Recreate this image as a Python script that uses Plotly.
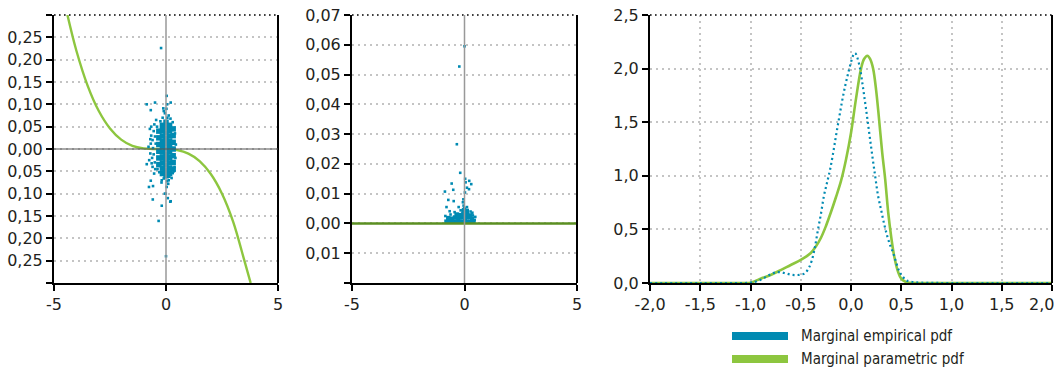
import plotly.graph_objects as go

# ---------------- data ----------------
# Panel 1: scatter cloud + parametric (cubic-like) curve
p1_core_x = [-0.32, -0.32, -0.32, -0.32, -0.32, -0.32,
             -0.16, -0.16, -0.16, -0.16, -0.16, -0.16, -0.16, -0.16, -0.16, -0.16,
             0.0, 0.0, 0.0, 0.0, 0.0, 0.0, 0.0, 0.0, 0.0, 0.0, 0.0,
             0.16, 0.16, 0.16, 0.16, 0.16, 0.16, 0.16, 0.16, 0.16, 0.16,
             0.32, 0.32, 0.32, 0.32, 0.32, 0.32, 0.32]
p1_core_y = [-0.035, -0.02, -0.005, 0.01, 0.025, 0.04,
             -0.055, -0.043, -0.031, -0.019, -0.007, 0.005, 0.017, 0.029, 0.041, 0.053,
             -0.06, -0.048, -0.036, -0.024, -0.012, 0.0, 0.012, 0.024, 0.036, 0.048, 0.06,
             -0.055, -0.043, -0.031, -0.019, -0.007, 0.005, 0.017, 0.029, 0.041, 0.053,
             -0.045, -0.03, -0.015, 0.0, 0.015, 0.03, 0.045]
p1_sparse_x = [-0.72, -0.66, -0.60, -0.55, -0.70, -0.62, -0.50, -0.46, -0.58, -0.68, -0.52,
               -0.48, -0.75, -0.44, -0.60, -0.66, -0.55, -0.49, -0.78, -0.64, -0.53, -0.70,
               -0.05, 0.12, 0.02, -0.15, 0.20, -0.25, 0.30, 0.05, -0.10, 0.06,
               0.05, -0.10, 0.15, 0.35, -0.30, 0.25, -0.20,
               -0.22, -0.86, -0.49, 0.03, 0.21, -0.12, -0.68, -0.76, -0.59, -0.19, -0.33,
               0.00, 0.21, 0.03, -0.86, -0.19, -0.05, 0.12, 0.30, -0.68, 0.10, 0.08, -0.01,
               0.19, -0.58, 0.40, 0.42, -0.38, 0.38, 0.44, -0.40]
p1_sparse_y = [0.045, 0.030, 0.020, 0.040, -0.010, -0.020, -0.030, 0.012, 0.002, 0.012, 0.055,
               -0.045, -0.025, 0.065, -0.040, 0.050, -0.012, 0.028, 0.005, -0.032, -0.055, 0.022,
               0.080, 0.075, 0.090, 0.070, 0.068, 0.062, 0.060, 0.100, 0.085, 0.070,
               -0.072, -0.066, -0.062, -0.050, -0.052, -0.065, -0.075,
               0.226, 0.100, 0.104, 0.119, 0.104, 0.091, 0.087, -0.085, -0.113, -0.127, -0.161,
               -0.240, -0.117, -0.085, -0.034, -0.070, -0.100, -0.070, -0.054, -0.071, -0.078, -0.110, -0.100,
               -0.118, -0.083, 0.035, -0.020, -0.045, -0.040, 0.010, 0.050]
p1_curve_x = [-4.4, -4.0, -3.5, -3.0, -2.5, -2.0, -1.5, -1.0, -0.5, 0.0, 0.5, 1.0, 1.5, 2.0, 2.5, 3.0, 3.5, 3.78]
p1_curve_y = [0.300, 0.220, 0.142, 0.085, 0.046, 0.021, 0.007, 0.0014, 0.0, -0.0002, -0.0025, -0.0103,
              -0.027, -0.056, -0.100, -0.163, -0.250, -0.300]

# Panel 2: scatter of squared terms + parametric line at zero
p2_base_x = [-0.80, -0.65, -0.50, -0.35, -0.20, -0.05, 0.10, 0.25, 0.40,
             -0.72, -0.57, -0.42, -0.27, -0.12, 0.03, 0.18, 0.33,
             -0.35, -0.20, -0.05, 0.10, 0.25,
             -0.02, 0.10]
p2_base_y = [0.0006, 0.0006, 0.0006, 0.0006, 0.0006, 0.0006, 0.0006, 0.0006, 0.0006,
             0.0018, 0.0016, 0.0020, 0.0017, 0.0021, 0.0019, 0.0022, 0.0016,
             0.0030, 0.0028, 0.0033, 0.0031, 0.0027,
             0.0045, 0.0042]
p2_sparse_x = [0.00, -0.23, -0.34, -0.19, 0.03, 0.21, -0.57, -0.87, -0.50, 0.20, 0.05, 0.30,
               0.11, 0.02, -0.72, -0.48, -0.05, -0.07, -0.80, -0.26, -0.01, 0.11, -0.66,
               -0.44, -0.17, -0.04, 0.27, 0.37, 0.45, -0.85, 0.48, -0.62, 0.35]
p2_sparse_y = [0.0595, 0.0527, 0.0266, 0.0170, 0.0150, 0.0143, 0.0134, 0.0107, 0.0113, 0.0115,
               0.0138, 0.0132, 0.0120, 0.0104, 0.0079, 0.0075, 0.0081, 0.0071, 0.0055, 0.0055,
               0.0052, 0.0055, 0.0041, 0.0038, 0.0044, 0.0060, 0.0040, 0.0027, 0.0012, 0.0025,
               0.0022, 0.0030, 0.0036]
p2_line_x = [-5, 5]
p2_line_y = [0, 0]

# Panel 3: marginal pdfs
emp_x = [-2.0, -1.5, -1.0, -0.95, -0.9, -0.85, -0.8, -0.75, -0.7, -0.65, -0.6, -0.55, -0.5,
         -0.46, -0.42, -0.39, -0.36, -0.33, -0.30, -0.27, -0.24, -0.21, -0.18, -0.15, -0.12,
         -0.09, -0.06, -0.03, 0.0, 0.02, 0.04, 0.06, 0.09, 0.12, 0.15, 0.18, 0.21, 0.24, 0.27,
         0.30, 0.33, 0.36, 0.39, 0.42, 0.45, 0.48, 0.51, 0.55, 0.60, 0.70, 1.0, 1.5, 2.0]
emp_y = [0.0, 0.0, 0.003, 0.012, 0.03, 0.055, 0.08, 0.098, 0.10, 0.09, 0.078, 0.074, 0.078,
         0.09, 0.14, 0.21, 0.33, 0.49, 0.64, 0.81, 0.93, 1.05, 1.20, 1.37, 1.53,
         1.69, 1.83, 1.95, 2.06, 2.12, 2.145, 2.11, 2.00, 1.82, 1.62, 1.41, 1.20, 1.00, 0.81,
         0.68, 0.55, 0.44, 0.35, 0.28, 0.19, 0.11, 0.065, 0.025, 0.012, 0.003, 0.0, 0.0, 0.0]
par_x = [-2.0, -1.5, -1.05, -1.0, -0.95, -0.9, -0.8, -0.7, -0.6, -0.5, -0.4, -0.35, -0.3,
         -0.25, -0.2, -0.15, -0.1, -0.05, 0.0, 0.05, 0.1, 0.13, 0.163, 0.19, 0.22, 0.25, 0.28,
         0.31, 0.34, 0.37, 0.40, 0.43, 0.47, 0.50, 0.55, 0.60, 1.0, 1.5, 2.0]
par_y = [0.0, 0.0, 0.0, 0.003, 0.02, 0.04, 0.075, 0.12, 0.168, 0.215, 0.28, 0.34, 0.42,
         0.53, 0.66, 0.80, 0.95, 1.15, 1.40, 1.72, 2.00, 2.09, 2.12, 2.09, 2.00, 1.80, 1.52,
         1.22, 0.97, 0.66, 0.43, 0.25, 0.10, 0.04, 0.008, 0.002, 0.0, 0.0, 0.0]

legend_labels = ["Marginal empirical pdf", "Marginal parametric pdf"]

p1_yticks = [-0.30, -0.25, -0.20, -0.15, -0.10, -0.05, 0.00, 0.05, 0.10, 0.15, 0.20, 0.25, 0.30]
p1_ytext = ["", "0,25", "0,20", "0,15", "0,10", "0,05", "0,00", "0,05", "0,10", "0,15", "0,20", "0,25", ""]
p2_yticks = [-0.02, -0.01, 0.00, 0.01, 0.02, 0.03, 0.04, 0.05, 0.06, 0.07]
p2_ytext = ["", "0,01", "0,00", "0,01", "0,02", "0,03", "0,04", "0,05", "0,06", "0,07"]
p12_xticks = [-5, 0, 5]
p12_xtext = ["-5", "0", "5"]
p3_xticks = [-2.0, -1.5, -1.0, -0.5, 0.0, 0.5, 1.0, 1.5, 2.0]
p3_xtext = ["-2,0", "-1,5", "-1,0", "-0,5", "0,0", "0,5", "1,0", "1,5", ""]
p3_last_tick = 2.0
p3_last_text = "2,0"
p3_yticks = [0.0, 0.5, 1.0, 1.5, 2.0, 2.5]
p3_ytext = ["0,0", "0,5", "1,0", "1,5", "2,0", "2,5"]

# ---------------- style ----------------
BLUE = "#008ab2"
GREEN = "#8dc63f"
DKGREEN = "#5b8f22"
TXT = "#231f20"
GRID = "#c4c4c4"
GRIDDASH = "1.5px,4.5px"
TICKFONT = dict(family="DejaVu Sans", size=16, color=TXT)

W, H = 1058, 368
top, bot = 15, 283
ydom = [1 - bot / H, 1 - top / H]
d1 = [54 / W, 278 / W]
d2 = [352 / W, 577 / W]
d3 = [650 / W, 1052 / W]

fig = go.Figure()

# panel 1
fig.add_trace(go.Scatter(x=p1_curve_x, y=p1_curve_y, mode="lines", line=dict(color=GREEN, width=2.4),
                         line_shape="spline", xaxis="x", yaxis="y", showlegend=False))
fig.add_trace(go.Scatter(x=p1_core_x, y=p1_core_y, mode="markers",
                         marker=dict(symbol="square", size=5.5, color=BLUE, line=dict(width=0)),
                         xaxis="x", yaxis="y", showlegend=False))
fig.add_trace(go.Scatter(x=p1_sparse_x, y=p1_sparse_y, mode="markers",
                         marker=dict(symbol="square", size=2.6, color=BLUE, line=dict(width=0)),
                         xaxis="x", yaxis="y", showlegend=False))

# panel 2
fig.add_trace(go.Scatter(x=p2_base_x, y=p2_base_y, mode="markers",
                         marker=dict(symbol="square", size=4.5, color=BLUE, line=dict(width=0)),
                         xaxis="x2", yaxis="y2", showlegend=False))
fig.add_trace(go.Scatter(x=p2_sparse_x, y=p2_sparse_y, mode="markers",
                         marker=dict(symbol="square", size=2.6, color=BLUE, line=dict(width=0)),
                         xaxis="x2", yaxis="y2", showlegend=False))
fig.add_trace(go.Scatter(x=p2_line_x, y=p2_line_y, mode="lines", line=dict(color=DKGREEN, width=2.5),
                         xaxis="x2", yaxis="y2", showlegend=False, cliponaxis=False))

# panel 3
fig.add_trace(go.Scatter(x=par_x, y=par_y, mode="lines", line=dict(color=GREEN, width=2.6),
                         line_shape="spline", xaxis="x3", yaxis="y3", showlegend=False))
fig.add_trace(go.Scatter(x=emp_x, y=emp_y, mode="lines", line=dict(color=BLUE, width=2.2, dash="2px,3px"),
                         line_shape="spline", xaxis="x3", yaxis="y3", showlegend=False))

def xax(dom, rng, tv, tt):
    return dict(domain=dom, range=rng, tickvals=tv, ticktext=tt, showline=True, linecolor="black",
                linewidth=2, ticks="outside", ticklen=6, tickwidth=2, tickcolor="black",
                zeroline=False, showgrid=False, tickfont=TICKFONT, fixedrange=True,
                automargin=False, ticklabeloverflow="allow")

def yax(rng, tv, tt, anchor):
    return dict(domain=ydom, range=rng, tickvals=tv, ticktext=tt, showline=True, linecolor="black",
                linewidth=2, ticks="outside", ticklen=6, tickwidth=2, tickcolor="black",
                zeroline=False, showgrid=True, gridcolor=GRID, gridwidth=1.5, griddash=GRIDDASH,
                tickfont=TICKFONT, anchor=anchor, fixedrange=True,
                automargin=False, ticklabeloverflow="allow")

ax1 = xax(d1, [-5, 5], p12_xticks, p12_xtext)
ax1["anchor"] = "y"
ax2 = xax(d2, [-5, 5], p12_xticks, p12_xtext)
ax2["anchor"] = "y2"
ax3 = xax(d3, [-2, 2], p3_xticks, p3_xtext)
ax3["anchor"] = "y3"
ax3["showgrid"] = True
ax3["gridcolor"] = GRID
ax3["gridwidth"] = 1.5
ax3["griddash"] = GRIDDASH

shapes = []
for xr, yr in [("x", "y"), ("x2", "y2"), ("x3", "y3")]:
    # right border
    shapes.append(dict(type="line", xref=f"{xr} domain", yref=f"{yr} domain", x0=1, x1=1, y0=0, y1=1,
                       line=dict(color="black", width=2), layer="above"))
    # dotted top line
    shapes.append(dict(type="line", xref=f"{xr} domain", yref=f"{yr} domain", x0=0, x1=1, y0=1, y1=1,
                       line=dict(color="black", width=1.6, dash="1.6px,3.4px"), layer="above"))
# zero reference lines
shapes.append(dict(type="line", xref="x", yref="y domain", x0=0, x1=0, y0=0, y1=1,
                   line=dict(color="#999999", width=1.5), layer="above"))
shapes.append(dict(type="line", xref="x domain", yref="y", x0=0, x1=1, y0=0, y1=0,
                   line=dict(color="#555555", width=1.2), layer="above"))
shapes.append(dict(type="line", xref="x2", yref="y2 domain", x0=0, x1=0, y0=0, y1=1,
                   line=dict(color="#999999", width=1.5), layer="above"))

annotations = []
# last x tick label of panel 3, nudged left to stay inside the page (as in the reference)
annotations.append(dict(xref="x3", yref="paper", x=p3_last_tick, y=1 - 304 / H, text=p3_last_text,
                        showarrow=False, xanchor="right", yanchor="middle", xshift=4,
                        font=TICKFONT))

# legend (manual, below panel 3)
for i, (lab, col) in enumerate(zip(legend_labels, [BLUE, GREEN])):
    yc = 336 + i * 23
    shapes.append(dict(type="rect", xref="paper", yref="paper",
                       x0=732 / W, x1=788 / W, y0=1 - (yc + 4) / H, y1=1 - (yc - 4) / H,
                       fillcolor=col, line=dict(width=0)))
    annotations.append(dict(xref="paper", yref="paper", x=799 / W, y=1 - yc / H, text=lab,
                            showarrow=False, xanchor="left", yanchor="middle",
                            font=dict(family="DejaVu Sans Condensed, sans-serif",
                                      size=15, color=TXT)))

fig.update_layout(
    width=W, height=H, margin=dict(l=0, r=0, t=0, b=0, autoexpand=False),
    paper_bgcolor="white", plot_bgcolor="white", showlegend=False,
    xaxis=ax1, yaxis=yax([-0.3, 0.3], p1_yticks, p1_ytext, "x"),
    xaxis2=ax2, yaxis2=yax([-0.02, 0.07], p2_yticks, p2_ytext, "x2"),
    xaxis3=ax3, yaxis3=yax([0, 2.5], p3_yticks, p3_ytext, "x3"),
    shapes=shapes, annotations=annotations,
)

fig.write_html("out.html")
